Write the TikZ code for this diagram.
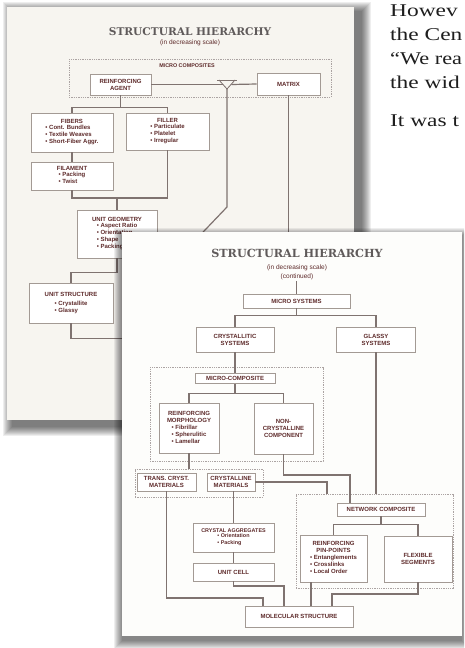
\documentclass[tikz,border=0pt]{standalone}
\usepackage{fontspec}
\setmainfont{Liberation Serif}
\setsansfont{Liberation Sans}
\newfontfamily\titlefamily{DejaVu Serif}
\usetikzlibrary{calc}
\definecolor{txtc}{HTML}{5E2B2B}
\definecolor{boxc}{HTML}{A39A94}
\definecolor{linec}{HTML}{7F7370}
\definecolor{dashc}{HTML}{ABA3A2}
\definecolor{backpaper}{HTML}{F7F5F0}
\definecolor{frontpaper}{HTML}{FDFDFB}
\definecolor{titc}{HTML}{5F5A5A}
\definecolor{bodyc}{HTML}{1E1E1E}
\newcommand\dgmfont{\sffamily\bfseries\fontsize{6}{7}\selectfont}
\newcommand\dgmsmall{\sffamily\bfseries\fontsize{5.4}{6.6}\selectfont}
\newcommand\subfont{\sffamily\fontsize{6.5}{7.5}\selectfont}
\newcommand\blist[1]{\begin{tabular}{@{}l@{}}#1\end{tabular}}
\begin{document}
\begin{tikzpicture}[x=1pt,y=-1pt,
  bx/.style={draw=boxc, line width=0.6pt, fill=white, inner sep=1pt, font=\dgmfont, text=txtc, align=center},
  dsh/.style={draw=dashc, dash pattern=on 1.3pt off 1pt, line width=0.6pt, inner sep=0pt},
  conn/.style={draw=linec, line width=1.2pt},
  lab/.style={font=\dgmfont, text=txtc, inner sep=0pt},
  sub/.style={font=\subfont, text=txtc, inner sep=0pt},
  ttl/.style={font=\titlefamily\bfseries\fontsize{10.6}{12}\selectfont, text=titc, inner sep=0pt},
  body/.style={font=\fontsize{18}{20}\selectfont, text=bodyc, inner sep=0pt, anchor=base west}]
\useasboundingbox (0,0) rectangle (464,648);
\clip (0,0) rectangle (464,648);
\fill[white] (0,0) rectangle (464,648);

% ---------- right-hand page text ----------
\node[body] (t1) at (390,16) {\scalebox{1.3}[1]{Howev}};
\node[body] (t2) at (390,40) {\scalebox{1.3}[1]{the Cen}};
\node[body] (t3) at (390,64) {\scalebox{1.24}[1]{“We rea}};
\node[body] (t4) at (390,88) {\scalebox{1.3}[1]{the wid}};
\node[body] (t5) at (390,126) {\scalebox{1.3}[1]{It was t}};

% ---------- back sheet ----------
\foreach \i in {1,...,10}
  \fill[black,opacity=0.065] ({7+6-\i},{7+5-\i}) rectangle ({354+7+\i},{420+6+\i});
\fill[backpaper] (7,7) rectangle (354,420);

\node[ttl] (btitle) at (190,32) {STRUCTURAL HIERARCHY};
\node[sub] (bsub) at (190,43) {(in decreasing scale)};

\node[dsh, minimum width=262pt, minimum height=38pt] (bmc) at (200,78) {};
\node[lab, font=\dgmsmall] (bmclab) at (187,66) {MICRO COMPOSITES};

\node[bx, minimum width=61pt, minimum height=21pt] (ragent) at (120.5,84.5) {REINFORCING\\AGENT};
\node[bx, minimum width=63pt, minimum height=22pt] (matrix) at (288.5,84) {MATRIX};

\coordinate (fun) at (227,89);
\coordinate (funl) at (222.5,84.5);
\coordinate (funr) at (231.5,84.5);
\draw[linec, line width=0.8pt] (217,80) -- (237,80);
\draw[linec, line width=0.8pt] (219,80) -- (fun) -- (235,80);
\draw[conn] (ragent.east) -- (funl);
\draw[conn] (funr) -- (matrix.west);
\draw[conn] (fun) -- ++(0,118) coordinate (fd) -- ++(-42,44);
\draw[conn] (matrix.south) -- ++(0,160);

\node[bx, minimum width=82pt, minimum height=39pt] (fibers) at (72,132.5)
  {FIBERS\\\blist{• Cont. Bundles\\• Textile Weaves\\• Short-Fiber Aggr.}};
\node[bx, minimum width=83pt, minimum height=37pt] (filler) at (167.5,131.5)
  {FILLER\\\blist{• Particulate\\• Platelet\\• Irregular}};
\draw[conn] (ragent.south) -- ++(0,12) coordinate (bj1);
\draw[conn] (bj1) -| (fibers.north);
\draw[conn] (bj1) -| (filler.north);

\node[bx, minimum width=82pt, minimum height=28pt] (filament) at (72,176)
  {FILAMENT\\\blist{• Packing\\• Twist}};
\draw[conn] (fibers.south) -- (filament.north);

\node[bx, minimum width=80pt, minimum height=48pt] (unitgeo) at (117,234)
  {UNIT GEOMETRY\\\blist{• Aspect Ratio\\• Orientation\\• Shape\\• Packing}};
\coordinate (bj2) at (117,198);
\draw[conn] (filament.south) |- (bj2);
\draw[conn] (filler.south) |- (bj2);
\draw[conn] (bj2) -- (unitgeo.north);

\node[bx, minimum width=84pt, minimum height=40pt] (unitstr) at (71,303)
  {UNIT STRUCTURE\\[3pt]\blist{• Crystallite\\• Glassy}};
\draw[conn] (unitgeo.south) -- ++(0,14) -| (unitstr.north);
\draw[conn] (unitstr.south) -- ++(0,15) -- ++(120,0);

% ---------- front sheet ----------
\foreach \i in {1,...,9}
  \fill[black,opacity=0.065] ({122+1-\i},{232+5-\i}) rectangle ({462-1+\i},{636+4+\i});
\fill[frontpaper] (122,232) rectangle (462,636);

\node[ttl, font=\titlefamily\bfseries\fontsize{11.2}{12}\selectfont] (ftitle) at (297,253) {STRUCTURAL HIERARCHY};
\node[sub] (fsub1) at (297,268) {(in decreasing scale)};
\node[sub] (fsub2) at (297,276.5) {(continued)};

\node[bx, minimum width=107pt, minimum height=14pt] (micsys) at (296.5,301) {MICRO SYSTEMS};
\coordinate (ftop) at (296.5,281);
\draw[conn] (ftop) -- (micsys.north);

\node[bx, minimum width=78pt, minimum height=25pt] (crys) at (235,339.5) {CRYSTALLITIC\\SYSTEMS};
\node[bx, minimum width=79pt, minimum height=25pt] (glassy) at (376,339.5) {GLASSY\\SYSTEMS};
\draw[conn] (micsys.south) -- ++(0,7) coordinate (fj1);
\draw[conn] (fj1) -| (crys.north);
\draw[conn] (fj1) -| (glassy.north);

\node[dsh, minimum width=173pt, minimum height=94pt] (d1) at (236.5,414) {};
\node[dsh, minimum width=128pt, minimum height=28pt] (d2) at (199,483) {};
\node[dsh, minimum width=157pt, minimum height=94pt] (d3) at (374.5,541) {};

\node[bx, minimum width=80pt, minimum height=10pt, inner sep=0.5pt] (mcomp) at (235,378.5) {MICRO-COMPOSITE};
\draw[conn] (crys.south) -- (mcomp.north);

\node[bx, minimum width=60pt, minimum height=50pt] (rmorph) at (189,428)
  {REINFORCING\\MORPHOLOGY\\[1pt]\blist{• Fibrillar\\• Spherulitic\\• Lamellar}};
\node[bx, minimum width=59pt, minimum height=51pt] (noncry) at (283.5,428.5)
  {NON-\\CRYSTALLINE\\COMPONENT};
\draw[conn] (mcomp.south) -- ++(0,10) coordinate (fj2);
\draw[conn] (fj2) -| (rmorph.north);
\draw[conn] (fj2) -| (noncry.north);

\draw[conn] (glassy.south) -- (glassy.south |- d3.north);
\draw[conn] (rmorph.south) -- (rmorph.south |- d2.north);

\node[bx, minimum width=59pt, minimum height=18pt, inner sep=0.5pt] (trans) at (166.5,482) {TRANS. CRYST.\\MATERIALS};
\node[bx, minimum width=48pt, minimum height=18pt, inner sep=0.5pt] (cmat) at (231,482) {CRYSTALLINE\\MATERIALS};

\node[bx, minimum width=88pt, minimum height=13pt] (netcomp) at (381,509.5) {NETWORK COMPOSITE};
\coordinate (k1) at (350,475);
\draw[conn] (noncry.south) |- (k1) -- (k1 |- netcomp.north);
\coordinate (k2) at (327,482);
\draw[conn] (cmat.east) -- (k2) -- (k2 |- d3.north);

\node[bx, minimum width=67pt, minimum height=47pt] (pinp) at (333.5,558.5)
  {REINFORCING\\PIN-POINTS\\[1pt]\blist{• Entanglements\\• Crosslinks\\• Local Order}};
\node[bx, minimum width=68pt, minimum height=46pt] (flex) at (418,559) {FLEXIBLE\\SEGMENTS};
\draw[conn] (netcomp.south) -- ++(0,8) coordinate (fj3);
\draw[conn] (fj3) -| (pinp.north);
\draw[conn] (fj3) -| (flex.north);

\node[bx, minimum width=81pt, minimum height=29pt, font=\dgmsmall] (cagg) at (233.5,537.5)
  {CRYSTAL AGGREGATES\\\blist{• Orientation\\• Packing}};
\node[bx, minimum width=81pt, minimum height=18pt] (ucell) at (233.5,572) {UNIT CELL};
\draw[conn] (cagg.north |- cmat.south) -- (cagg.north);
\draw[conn] (cagg.south) -- (ucell.north);

\node[bx, minimum width=108pt, minimum height=21pt] (molec) at (299,616.5) {MOLECULAR STRUCTURE};
\coordinate (k3) at (263,598);
\draw[conn] (trans.south) |- (k3) -- (k3 |- molec.north);
\coordinate (k4) at (284,586);
\draw[conn] (ucell.south) |- (k4) -- (k4 |- molec.north);
\coordinate (k5) at (311,0);
\draw[conn] (pinp.south -| k5) -- (molec.north -| k5);
\coordinate (k6) at (332,594);
\draw[conn] (flex.south) |- (k6) -- (k6 |- molec.north);
\end{tikzpicture}
\end{document}
